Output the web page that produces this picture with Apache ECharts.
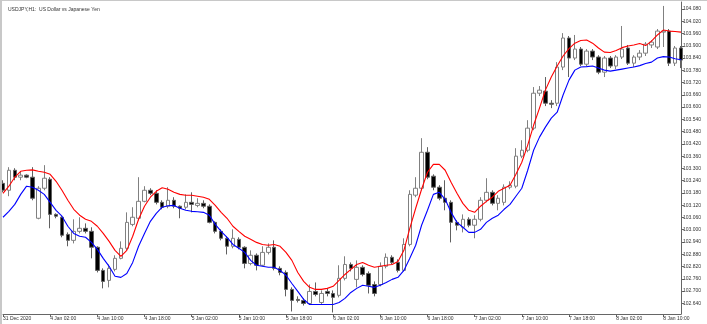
<!DOCTYPE html>
<html><head><meta charset="utf-8">
<script src="https://cdn.jsdelivr.net/npm/echarts@6/dist/echarts.min.js"></script>
<style>html,body{margin:0;padding:0;background:#fff}#c{width:707px;height:324px}</style>
</head><body><div id="c"></div>
<script>
const chartTitle = 'USDJPY,H1:  US Dollar vs Japanese Yen';
const xTickLabels = ['31 Dec 2020','4 Jan 02:00','4 Jan 10:00','4 Jan 18:00','5 Jan 02:00','5 Jan 10:00','5 Jan 18:00','6 Jan 02:00','6 Jan 10:00','6 Jan 18:00','7 Jan 02:00','7 Jan 10:00','7 Jan 18:00','8 Jan 02:00','8 Jan 10:00'];
const yTickLabels = [102.640,102.700,102.760,102.820,102.880,102.940,103.000,103.060,103.120,103.180,103.240,103.300,103.360,103.420,103.480,103.540,103.600,103.660,103.720,103.780,103.840,103.900,103.960,104.020,104.080];
const sessions = [['31 Dec',18,23],['4 Jan',0,23],['5 Jan',0,23],['6 Jan',0,23],['7 Jan',0,23],['8 Jan',0,13]];

const opens = [
103.227,103.193,103.291,103.257,103.267,103.257,103.056,103.203,103.247,103.075,
103.061,102.977,102.948,102.992,103.007,102.992,102.914,102.801,102.752,102.806,
102.860,102.909,103.026,103.056,103.139,103.193,103.178,103.134,103.115,103.144,
103.115,103.110,103.134,103.119,103.129,103.115,103.036,102.992,102.958,102.919,
102.953,102.914,102.835,102.875,102.826,102.889,102.914,102.811,102.791,102.708,
102.659,102.654,102.639,102.698,102.644,102.698,102.688,102.679,102.762,102.830,
102.757,102.816,102.786,102.732,102.732,102.821,102.865,102.840,102.801,102.928,
103.169,103.203,103.379,103.262,103.208,103.154,103.134,103.036,103.012,103.051,
103.022,103.051,103.144,103.183,103.129,103.134,103.208,103.213,103.360,103.389,
103.497,103.668,103.678,103.619,103.619,103.796,103.938,103.840,103.884,103.810,
103.874,103.845,103.771,103.840,103.801,103.845,103.889,103.815,103.845,103.864,
103.904,103.894,103.967,103.972,103.815,103.889];
const closes = [
103.193,103.291,103.257,103.267,103.257,103.154,103.203,103.252,103.075,103.066,
102.973,102.948,102.992,103.007,102.992,102.914,102.801,102.747,102.811,102.860,
102.909,103.036,103.061,103.139,103.193,103.178,103.134,103.110,103.144,103.115,
103.105,103.134,103.124,103.129,103.115,103.036,102.992,102.958,102.919,102.958,
102.914,102.835,102.875,102.826,102.889,102.914,102.811,102.791,102.708,102.654,
102.654,102.639,102.698,102.683,102.688,102.688,102.669,102.762,102.830,102.811,
102.816,102.781,102.728,102.688,102.821,102.865,102.840,102.801,102.928,103.173,
103.203,103.379,103.257,103.208,103.154,103.134,103.036,103.022,103.051,103.022,
103.051,103.144,103.183,103.129,103.154,103.208,103.218,103.360,103.389,103.497,
103.668,103.683,103.619,103.614,103.796,103.938,103.840,103.884,103.810,103.874,
103.845,103.771,103.840,103.801,103.845,103.884,103.815,103.845,103.864,103.908,
103.918,103.972,103.972,103.815,103.889,103.830];
const lows = [
103.183,103.164,103.242,103.242,103.252,103.144,103.051,103.193,103.007,103.056,
102.963,102.919,102.933,102.982,102.982,102.860,102.791,102.713,102.718,102.796,
102.855,102.899,103.017,103.046,103.134,103.169,103.124,103.100,103.105,103.105,
103.056,103.100,103.085,103.110,103.105,103.031,102.982,102.948,102.879,102.909,
102.904,102.811,102.826,102.801,102.821,102.879,102.801,102.777,102.674,102.600,
102.644,102.629,102.634,102.674,102.634,102.674,102.595,102.669,102.752,102.796,
102.718,102.772,102.688,102.674,102.723,102.811,102.830,102.791,102.796,102.919,
103.159,103.193,103.247,103.193,103.144,103.095,102.938,102.997,102.987,103.012,
102.958,103.041,103.134,103.119,103.095,103.119,103.198,103.203,103.350,103.379,
103.487,103.654,103.605,103.595,103.605,103.781,103.747,103.830,103.801,103.801,
103.830,103.761,103.747,103.791,103.786,103.835,103.806,103.796,103.830,103.850,
103.889,103.884,103.894,103.801,103.801,103.791];
const highs = [
103.242,103.306,103.301,103.286,103.271,103.306,103.213,103.316,103.257,103.080,
103.066,102.987,103.051,103.061,103.031,103.012,102.919,102.811,102.830,102.875,
102.943,103.085,103.110,103.257,103.213,103.203,103.193,103.144,103.208,103.159,
103.119,103.173,103.183,103.154,103.144,103.124,103.041,103.002,102.968,103.002,
102.963,102.919,102.899,102.884,102.919,102.933,102.948,102.821,102.801,102.718,
102.674,102.664,102.732,102.742,102.703,102.713,102.703,102.826,102.870,102.840,
102.850,102.826,102.796,102.747,102.840,102.884,102.875,102.855,102.958,103.193,
103.257,103.448,103.404,103.271,103.218,103.242,103.144,103.046,103.075,103.061,
103.071,103.159,103.252,103.193,103.169,103.222,103.237,103.399,103.438,103.536,
103.698,103.703,103.747,103.634,103.820,103.962,103.948,103.953,103.894,103.884,
103.884,103.854,103.850,103.850,103.854,103.997,103.904,103.854,103.879,103.918,
103.928,103.982,104.095,103.982,103.899,103.899];
const redLine = [
103.178,103.213,103.257,103.286,103.291,103.293,103.286,103.281,103.271,103.237,
103.193,103.144,103.100,103.071,103.051,103.041,103.017,102.982,102.943,102.899,
102.870,102.899,102.968,103.051,103.115,103.159,103.188,103.205,103.198,103.183,
103.173,103.169,103.169,103.164,103.159,103.149,103.119,103.085,103.056,103.017,
102.992,102.968,102.953,102.938,102.928,102.924,102.928,102.919,102.889,102.850,
102.791,102.747,102.718,102.708,102.708,102.713,102.723,102.752,102.781,102.806,
102.830,102.840,102.826,102.816,102.821,102.826,102.830,102.845,102.899,103.007,
103.105,103.198,103.281,103.320,103.320,103.291,103.232,103.178,103.129,103.095,
103.085,103.115,103.139,103.159,103.188,103.203,103.218,103.271,103.330,103.414,
103.511,103.595,103.683,103.747,103.801,103.850,103.886,103.913,103.926,103.928,
103.913,103.889,103.869,103.867,103.877,103.891,103.899,103.904,103.911,103.901,
103.923,103.953,103.977,103.972,103.970,103.967];
const blueLine = [
103.061,103.090,103.124,103.173,103.213,103.208,103.193,103.173,103.134,103.095,
103.066,103.017,102.982,102.968,102.963,102.938,102.904,102.860,102.821,102.772,
102.767,102.786,102.840,102.919,102.982,103.041,103.080,103.110,103.117,103.119,
103.105,103.095,103.090,103.088,103.085,103.071,103.026,102.992,102.963,102.928,
102.909,102.889,102.850,102.826,102.821,102.816,102.816,102.801,102.777,102.737,
102.698,102.659,102.634,102.634,102.634,102.634,102.634,102.644,102.664,102.693,
102.713,102.728,102.723,102.718,102.728,102.742,102.757,102.767,102.801,102.860,
102.924,103.022,103.095,103.173,103.183,103.149,103.085,103.036,103.012,102.987,
102.987,103.002,103.036,103.056,103.071,103.100,103.124,103.164,103.203,103.291,
103.389,103.453,103.502,103.546,103.575,103.659,103.732,103.781,103.796,103.798,
103.801,103.791,103.781,103.776,103.781,103.786,103.791,103.796,103.803,103.813,
103.820,103.840,103.847,103.845,103.837,103.832];

const categories = [];
sessions.forEach(([d, h0, h1]) => { for (let h = h0; h <= h1; h++) categories.push(d + ' ' + String(h).padStart(2, '0') + ':00'); });
const candles = opens.map((o, i) => [o, closes[i], lows[i], highs[i]]);

const FONT = 'Liberation Sans, Arial, sans-serif';
const chart = echarts.init(document.getElementById('c'), null, {renderer: 'canvas'});
chart.setOption({
  animation: false,
  backgroundColor: '#ffffff',
  title: {text: chartTitle, left: 3, top: 2, textStyle: {fontSize: 5, fontWeight: 'normal', color: '#333', fontFamily: FONT}},
  grid: {left: 0, right: 26, top: 2, bottom: 10},
  xAxis: {
    type: 'category', data: categories, boundaryGap: false,
    axisLine: {lineStyle: {color: '#666', width: 1}},
    axisTick: {show: true, interval: 7, length: 3, lineStyle: {color: '#666'}},
    axisLabel: {interval: 7, fontSize: 5, color: '#333', fontFamily: FONT, align: 'left', margin: 2,
      formatter: (v, idx) => xTickLabels[Math.round(idx / 8)] || ''},
    splitLine: {show: false}
  },
  yAxis: {
    type: 'value', position: 'right', min: 102.5876, max: 104.1143, scale: true,
    axisLine: {show: true, lineStyle: {color: '#666', width: 1}},
    axisTick: {show: true, length: 3, customValues: yTickLabels, lineStyle: {color: '#666'}},
    axisLabel: {customValues: yTickLabels, fontSize: 5, color: '#333', fontFamily: FONT, margin: 2,
      formatter: v => v.toFixed(3)},
    splitLine: {show: false}
  },
  series: [
    {type: 'candlestick', data: candles, barWidth: 4, clip: true,
      itemStyle: {color: '#ffffff', color0: '#000000', borderColor: '#808080', borderColor0: '#606060', borderWidth: 1}},
    {type: 'line', data: redLine, showSymbol: false, symbol: 'none', lineStyle: {color: '#ff0000', width: 1.1}, z: 3},
    {type: 'line', data: blueLine, showSymbol: false, symbol: 'none', lineStyle: {color: '#0000ff', width: 1.1}, z: 3}
  ],
  graphic: [
    {type: 'rect', left: 0, top: 0, shape: {width: 2, height: 324}, style: {fill: '#c8c8c8'}, z: 100},
    {type: 'rect', left: 0, top: 0, shape: {width: 707, height: 1}, style: {fill: '#c8c8c8'}, z: 100}
  ]
});
</script>
</body></html>
